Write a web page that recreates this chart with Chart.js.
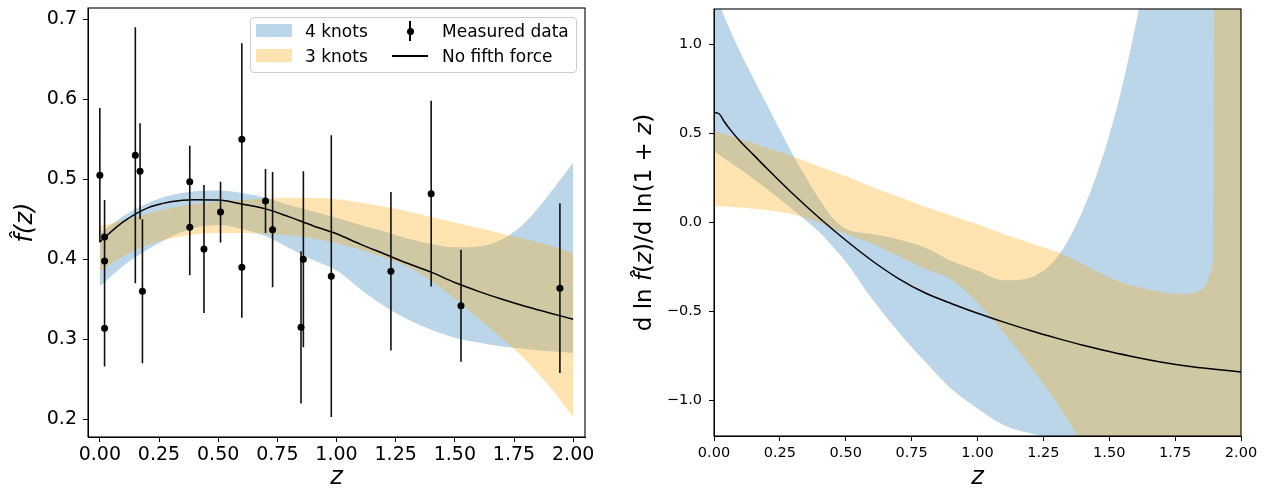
<!DOCTYPE html>
<html>
<head>
<meta charset="utf-8">
<script src="https://cdn.jsdelivr.net/npm/chart.js@4.4.1/dist/chart.umd.min.js"></script>
<style>
html,body{margin:0;padding:0;background:#fff;}
#wrap{position:relative;width:1272px;height:491px;overflow:hidden;background:#fff;font-family:"DejaVu Sans",sans-serif;}
#c1box{position:absolute;left:0;top:0;width:600px;height:491px;}
#c2box{position:absolute;left:630px;top:0;width:642px;height:491px;}
.abs{position:absolute;}
#legend{position:absolute;left:250px;top:17px;width:325px;height:54px;border:1px solid #cccccc;border-radius:4px;background:rgba(255,255,255,0.8);}
.ltxt{position:absolute;font-size:17px;line-height:20px;color:#000;white-space:nowrap;font-family:"DejaVu Sans",sans-serif;}
</style>
</head>
<body>
<div id="wrap">
  <div id="c1box"><canvas id="c1" width="600" height="491"></canvas></div>
  <div id="c2box"><canvas id="c2" width="642" height="491"></canvas></div>
  <div id="legend"></div>
  <div class="abs" style="left:256px;top:24px;width:36px;height:13px;background:rgb(188,214,233);"></div>
  <div class="abs" style="left:256px;top:49px;width:36px;height:13px;background:rgb(255,228,178);"></div>
  <div class="ltxt" style="left:305px;top:21px;">4 knots</div>
  <div class="ltxt" style="left:305px;top:46px;">3 knots</div>
  <div class="abs" style="left:409px;top:21px;width:1.5px;height:20px;background:#000;"></div>
  <div class="abs" style="left:406.5px;top:27.5px;width:7px;height:7px;border-radius:50%;background:#000;"></div>
  <div class="ltxt" style="left:442px;top:21px;">Measured data</div>
  <div class="abs" style="left:392px;top:55px;width:36px;height:1.5px;background:#000;"></div>
  <div class="ltxt" style="left:442px;top:46px;">No fifth force</div>
</div>
<script>
// ---------- Left panel data ----------
const leftBandZ = [0,0.1,0.2,0.3,0.4,0.5,0.6,0.7,0.8,0.9,1.0,1.1,1.2,1.3,1.4,1.5,1.6,1.7,1.8,1.9,2.0];
const knots4UpperF = [0.432,0.454,0.470,0.480,0.485,0.486,0.483,0.477,0.468,0.460,0.452,0.443,0.435,0.426,0.419,0.415,0.416,0.425,0.447,0.482,0.521];
const knots4LowerF = [0.366,0.392,0.412,0.428,0.439,0.443,0.438,0.429,0.414,0.399,0.386,0.363,0.342,0.325,0.312,0.302,0.296,0.291,0.288,0.285,0.283];
const knots3UpperF = [0.441,0.449,0.457,0.464,0.469,0.472,0.474,0.476,0.477,0.477,0.475,0.471,0.466,0.460,0.453,0.446,0.439,0.432,0.425,0.417,0.408];
const knots3LowerF = [0.385,0.404,0.418,0.426,0.431,0.433,0.433,0.432,0.430,0.426,0.420,0.412,0.402,0.391,0.373,0.351,0.326,0.301,0.274,0.241,0.203];
const noFifthF = [0.422,0.447,0.464,0.472,0.4745,0.474,0.469,0.463,0.453,0.442,0.432,0.419,0.407,0.395,0.384,0.371,0.360,0.350,0.341,0.333,0.325];

const obsZ   = [0.00,0.02,0.02,0.02,0.15,0.17,0.18,0.38,0.38,0.44,0.51,0.60,0.60,0.70,0.73,0.85,0.86,0.978,1.23,1.40,1.526,1.944];
const obsF   = [0.505,0.428,0.398,0.314,0.530,0.510,0.360,0.497,0.440,0.413,0.459,0.550,0.390,0.473,0.437,0.315,0.400,0.379,0.385,0.482,0.342,0.364];
const obsErr = [0.084,0.046,0.064,0.048,0.160,0.060,0.090,0.045,0.060,0.080,0.038,0.120,0.063,0.040,0.072,0.095,0.110,0.176,0.099,0.116,0.070,0.106];

const xTicks = [0,0.25,0.5,0.75,1.0,1.25,1.5,1.75,2.0];
const xTickLabels = ['0.00','0.25','0.50','0.75','1.00','1.25','1.50','1.75','2.00'];
const leftYTicks = [0.2,0.3,0.4,0.5,0.6,0.7];
const leftYTickLabels = ['0.2','0.3','0.4','0.5','0.6','0.7'];

// ---------- Right panel data ----------
const rBlueZ = [0,0.05,0.1,0.15,0.2,0.25,0.3,0.35,0.4,0.45,0.5,0.6,0.7,0.8,0.9,1.0,1.1,1.2,1.25,1.3,1.35,1.4,1.45,1.5,1.55,1.6,1.65,1.7,1.8,1.9,2.0];
const rKnots4Upper = [1.30,1.12,0.955,0.81,0.665,0.52,0.38,0.25,0.13,0.025,-0.035,-0.065,-0.095,-0.14,-0.215,-0.27,-0.325,-0.31,-0.27,-0.2,-0.085,0.07,0.26,0.49,0.77,1.11,1.5,2.0,3.0,4.0,5.0];
const rKnots4Lower = [0.40,0.35,0.30,0.245,0.19,0.13,0.07,0.01,-0.055,-0.135,-0.22,-0.43,-0.615,-0.78,-0.935,-1.045,-1.14,-1.185,-1.2,-1.215,-1.23,-1.25,-1.28,-1.31,-1.34,-1.37,-1.4,-1.43,-1.5,-1.55,-1.6];
const rOrangeZ = [0,0.1,0.2,0.3,0.4,0.5,0.6,0.7,0.8,0.9,1.0,1.1,1.2,1.3,1.4,1.5,1.6,1.7,1.78,1.84,1.87,1.885,1.894,1.9,1.95,2.0];
const rKnots3Upper = [0.515,0.468,0.42,0.37,0.315,0.26,0.2,0.145,0.09,0.04,-0.01,-0.065,-0.115,-0.165,-0.235,-0.31,-0.36,-0.392,-0.403,-0.385,-0.343,-0.28,-0.17,1.5,2.5,3.0];
const rKnots3Lower = [0.093,0.085,0.07,0.045,0.0,-0.065,-0.12,-0.19,-0.26,-0.32,-0.45,-0.62,-0.81,-1.01,-1.25,-1.5,-1.75,-2.0,-2.2,-2.35,-2.4,-2.45,-2.46,-2.47,-2.5,-2.6];
const rCurveZ = [0,0.02,0.04,0.06,0.1,0.15,0.2,0.3,0.4,0.5,0.6,0.7,0.8,0.9,1.0,1.1,1.2,1.3,1.4,1.5,1.6,1.7,1.8,1.9,2.0];
const rNoFifth = [0.618,0.61,0.565,0.525,0.455,0.38,0.305,0.16,0.025,-0.1,-0.215,-0.315,-0.395,-0.455,-0.51,-0.56,-0.607,-0.65,-0.69,-0.725,-0.757,-0.785,-0.808,-0.825,-0.84];
const rightYTicks = [-1.0,-0.5,0.0,0.5,1.0];
const rightYTickLabels = ['\u22121.0','\u22120.5','0.0','0.5','1.0'];

// ---------- helpers ----------
const pts = (xs, ys) => xs.map((x, i) => ({x: x, y: ys[i]}));
const errSegs = [];
obsZ.forEach((z, i) => {
  errSegs.push({x: z, y: obsF[i] - obsErr[i]}, {x: z, y: obsF[i] + obsErr[i]}, {x: z, y: null});
});
const BLUE = 'rgba(31,119,180,0.3)';
const ORANGE = 'rgba(255,165,0,0.3)';
const FONT = 'DejaVu Sans';

const framePlugin = {
  id: 'frame',
  afterDatasetsDraw(chart) {
    const {ctx, chartArea: a} = chart;
    ctx.save();
    ctx.strokeStyle = '#000';
    ctx.lineWidth = 1.1;
    ctx.strokeRect(a.left, a.top, a.right - a.left, a.bottom - a.top);
    ctx.restore();
  }
};

// right y-axis title drawn with mixed upright / italic segments (mathtext style)
const rightTitleSegs = [['d ln ', ''], ['f\u0302', 'italic '], ['(', ''], ['z', 'italic '], [')/d ln(1 + ', ''], ['z', 'italic '], [')', '']];
const mixedTitlePlugin = {
  id: 'mixedTitle',
  afterDraw(chart) {
    const {ctx, chartArea: a} = chart;
    ctx.save();
    const size = 23;
    let total = 0;
    rightTitleSegs.forEach(s => { ctx.font = s[1] + size + 'px "' + FONT + '"'; total += ctx.measureText(s[0]).width; });
    const cx = 15, cy = (a.top + a.bottom) / 2;
    ctx.translate(cx, cy);
    ctx.rotate(-Math.PI / 2);
    ctx.fillStyle = '#000';
    ctx.textBaseline = 'middle';
    ctx.textAlign = 'left';
    let x = -total / 2;
    rightTitleSegs.forEach(s => { ctx.font = s[1] + size + 'px "' + FONT + '"'; ctx.fillText(s[0], x, 0); x += ctx.measureText(s[0]).width; });
    ctx.restore();
  }
};

function bandPair(xs, up, lo, color) {
  return [
    {data: pts(xs, up), fill: '+1', backgroundColor: color, borderColor: 'transparent', borderWidth: 0, pointRadius: 0, cubicInterpolationMode: 'monotone'},
    {data: pts(xs, lo), fill: false, backgroundColor: color, borderColor: 'transparent', borderWidth: 0, pointRadius: 0, cubicInterpolationMode: 'monotone'}
  ];
}

function axisCommon(tickVals, tickLabels, fontSize, pad) {
  return {
    afterBuildTicks: s => { s.ticks = tickVals.map(v => ({value: v})); },
    ticks: {callback: (v, i) => tickLabels[i], font: {family: FONT, size: fontSize}, color: '#000', padding: pad, maxRotation: 0, autoSkip: false},
    grid: {display: true, drawOnChartArea: false, drawTicks: true, tickLength: 5, tickColor: '#000', tickWidth: 1},
    border: {display: true, color: '#000', width: 1}
  };
}
const fixX = h => s => { s.height = h; s.paddingLeft = 0; s.paddingRight = 0; s.paddingTop = 0; s.paddingBottom = 0; };
const fixY = w => s => { s.width = w; s.paddingLeft = 0; s.paddingRight = 0; s.paddingTop = 0; s.paddingBottom = 0; };

// ---------- Left chart ----------
const lb4 = bandPair(leftBandZ, knots4UpperF, knots4LowerF, BLUE);
const lb3 = bandPair(leftBandZ, knots3UpperF, knots3LowerF, ORANGE);
new Chart(document.getElementById('c1'), {
  type: 'line',
  data: {
    datasets: [
      {label: 'Measured data', data: pts(obsZ, obsF), showLine: false, pointRadius: 3.5, pointBackgroundColor: '#000', pointBorderWidth: 0, borderColor: '#000'},
      {label: 'errors', data: errSegs, spanGaps: false, borderColor: '#111', borderWidth: 1.6, pointRadius: 0, fill: false, tension: 0},
      {label: 'No fifth force', data: pts(leftBandZ, noFifthF), borderColor: '#000', borderWidth: 1.5, pointRadius: 0, fill: false, cubicInterpolationMode: 'monotone'},
      Object.assign({label: '3 knots'}, lb3[0]), lb3[1],
      Object.assign({label: '4 knots'}, lb4[0]), lb4[1]
    ]
  },
  options: {
    responsive: false, animation: false, events: [],
    layout: {padding: {left: 0, top: 8, right: 15, bottom: 0}},
    plugins: {legend: {display: false}, tooltip: {enabled: false}},
    scales: {
      x: Object.assign({type: 'linear', min: -0.05, max: 2.05,
        afterFit: fixX(54),
        title: {display: true, text: 'z', color: '#000', font: {family: FONT, size: 24, style: 'italic', lineHeight: 1.1}, padding: 0}
      }, axisCommon(xTicks, xTickLabels, 19, 2)),
      y: Object.assign({type: 'linear', min: 0.178, max: 0.714,
        afterFit: fixY(88),
        title: {display: true, text: 'f\u0302(z)', color: '#000', font: {family: FONT, size: 24, style: 'italic', lineHeight: 1.2}, padding: {top: 11, bottom: 0}}
      }, axisCommon(leftYTicks, leftYTickLabels, 19, 6))
    }
  },
  plugins: [framePlugin]
});

// ---------- Right chart ----------
const rb4 = bandPair(rBlueZ, rKnots4Upper, rKnots4Lower, BLUE);
const rb3 = bandPair(rOrangeZ, rKnots3Upper, rKnots3Lower, ORANGE);
new Chart(document.getElementById('c2'), {
  type: 'line',
  data: {
    datasets: [
      {label: 'No fifth force', data: pts(rCurveZ, rNoFifth), borderColor: '#000', borderWidth: 1.5, pointRadius: 0, fill: false, cubicInterpolationMode: 'monotone'},
      Object.assign({label: '3 knots'}, rb3[0]), rb3[1],
      Object.assign({label: '4 knots'}, rb4[0]), rb4[1]
    ]
  },
  options: {
    responsive: false, animation: false, events: [],
    layout: {padding: {left: 0, top: 9, right: 31, bottom: 0}},
    plugins: {legend: {display: false}, tooltip: {enabled: false}},
    scales: {
      x: Object.assign({type: 'linear', min: 0, max: 2,
        afterFit: fixX(55),
        title: {display: true, text: 'z', color: '#000', font: {family: FONT, size: 24, style: 'italic', lineHeight: 1.1}, padding: 0}
      }, axisCommon(xTicks, xTickLabels, 14.5, 4)),
      y: Object.assign({type: 'linear', min: -1.2, max: 1.2,
        afterFit: fixY(84),
        title: {display: false, text: 'd ln f\u0302(z)/d ln(1 + z)'}
      }, axisCommon(rightYTicks, rightYTickLabels, 14.5, 7))
    }
  },
  plugins: [framePlugin, mixedTitlePlugin]
});
</script>
</body>
</html>
